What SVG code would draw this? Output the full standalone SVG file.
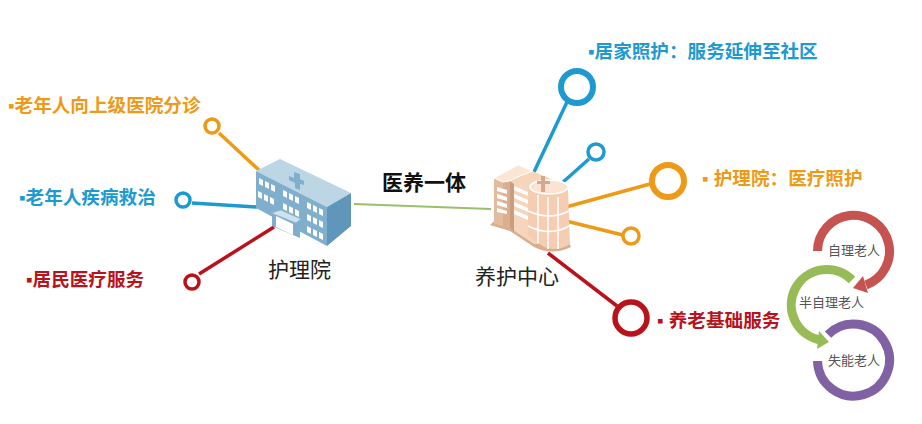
<svg xmlns="http://www.w3.org/2000/svg" width="922" height="424" viewBox="0 0 922 424">
<style>
text{font-family:"Liberation Sans","Noto Sans CJK SC",sans-serif}
.b{font-weight:700;font-size:18.6px}
.k{font-size:21px;fill:#222}
.c{font-size:13px;fill:#555}
.o{fill:#ee9a16}.bl{fill:#1e9ad0}.r{fill:#b9121b}
.lo{stroke:#ee9a16}.lb{stroke:#1e9ad0}.lr{stroke:#b9121b}
.ln{fill:none;stroke-width:3.5}
.ring{fill:#fff}
.win{fill:#fff}
.pw{fill:none;stroke:#fff;stroke-width:1.5}
</style>
<defs>
<g id="w"><polygon class="win" points="0,0 4,2 4,8 0,6"/></g>
<g id="w3"><use href="#w"/><use href="#w" x="6" y="3"/><use href="#w" x="12" y="6"/></g>
</defs>
<rect width="922" height="424" fill="#fff"/>
<g id="connectors">
<line class="ln lo" x1="219" y1="133" x2="260" y2="171"/>
<line class="ln lb" x1="192" y1="203" x2="257" y2="207"/>
<line class="ln lr" x1="199" y1="274" x2="274" y2="227"/>
<line x1="354" y1="204" x2="491" y2="209" fill="none" stroke="#9cbf6a" stroke-width="2"/>
<line class="ln lb" x1="534" y1="172" x2="567" y2="102"/>
<line class="ln lb" x1="562" y1="183" x2="589" y2="159"/>
<line class="ln lo" x1="566" y1="207" x2="650" y2="184"/>
<line class="ln lo" x1="566" y1="221" x2="623" y2="235"/>
<line class="ln lr" x1="548" y1="253" x2="617" y2="306"/>
</g>
<g id="hospital">
<polygon fill="#bcd6e6" points="256,171 280,159 351,193 327,207"/>
<polygon fill="#7fafcd" points="256,171 327,207 327,246 256,208"/>
<polygon fill="#5f96b9" points="327,207 351,193 351,226 327,246"/>
<polygon fill="#7fafcd" points="294,172 300,174 300,179 304,181 304,185 300,184 300,190 295,188 295,183 289,180 289,176 294,178"/>
<use href="#w3" x="259" y="178"/><use href="#w3" x="258" y="191"/>
<use href="#w3" x="283" y="190"/><use href="#w3" x="283" y="203"/>
<use href="#w3" x="307" y="202"/><use href="#w3" x="307" y="214"/><use href="#w3" x="307" y="226"/>
<polygon fill="#7fafcd" points="272,214 300,224 300,238 272,226"/>
<polygon fill="#fff" points="276,216 293,224 293,235 276,227"/>
<polygon fill="#cfe1ec" stroke="#8fb7d1" points="271,213 281,210 301,219 296,223"/>
</g>
<text id="hospital-label" class="k" x="268" y="277">护理院</text>
<text id="title" x="382" y="190" font-size="21" font-weight="700" fill="#111">医养一体</text>
<g id="center">
<path fill="#d9ae90" d="M490,225 L510,231 L534,247 Q552,256 571,247 L566,236 L500,215Z"/>
<polygon fill="#f6d5bd" points="494,178 518,165 568,186 568,244 534,244 510,228 494,223"/>
<polygon fill="#e3bb9f" points="494,178 503,182 503,226 494,223"/>
<polygon fill="#dcae90" points="503,182 510,181 512,230 503,226"/>
<polygon fill="#c99d80" points="510,181 514,184 514,232 510,228"/>
<polygon fill="#fbe6d6" stroke="#fff" points="494,178 518,165 533,171 520,176 509,181 503,182"/>
<polygon fill="#fff" points="497,187 507,190 507,194 497,191"/>
<polygon fill="#fff" points="497,194 507,197 507,201 497,198"/>
<polygon fill="#fff" points="497,201 507,204 507,208 497,205"/>
<polygon fill="#fff" points="497,208 507,211 507,214 497,212"/>
<polygon fill="#fff" points="514,186 528,192 528,196 514,190"/>
<polygon fill="#fff" points="514,194 528,200 528,204 514,198"/>
<polygon fill="#fff" points="514,202 528,208 528,212 514,206"/>
<polygon fill="#fff" points="514,210 528,216 528,220 514,214"/>
<path fill="#f4cdb2" d="M528,190 L568,190 L570,244 Q558,252 544,247 L528,236 Z"/>
<path class="pw" d="M528,211 Q550,221 569,211 M528,226 Q550,237 569,226 M538,195 V243 M548,197 V249 M558,197 V249"/>
<ellipse cx="549" cy="187" rx="19" ry="7" fill="#fae3d2" stroke="#fff" stroke-width="1.5"/>
<path fill="#d6a98c" d="M541,176 h4 v5 h5 v3 h-5 v8 h-4 v-8 h-4 v-3 h4z"/>
</g>
<text id="center-label" class="k" x="475" y="284">养护中心</text>
<g id="node-left-1"><circle class="ring lo" cx="212" cy="126" r="7" stroke-width="3.5"/>
<text class="b o" x="8" y="112">▪老年人向上级医院分诊</text></g>
<g id="node-left-2"><circle class="ring lb" cx="183" cy="200" r="7" stroke-width="3.5"/>
<text class="b bl" x="19" y="204">▪老年人疾病救治</text></g>
<g id="node-left-3"><circle class="ring lr" cx="192" cy="282" r="7" stroke-width="3.5"/>
<text class="b r" x="26" y="286">▪居民医疗服务</text></g>
<g id="node-right-1"><circle class="ring lb" cx="577" cy="87" r="16" stroke-width="6"/>
<text class="b bl" x="588" y="58">▪居家照护：服务延伸至社区</text></g>
<g id="node-right-2"><circle class="ring lb" cx="596" cy="152" r="8" stroke-width="3.5"/></g>
<g id="node-right-3"><circle class="ring lo" cx="668" cy="181" r="16" stroke-width="6"/>
<text class="b o" x="702" y="185">▪ 护理院：医疗照护</text></g>
<g id="node-right-4"><circle class="ring lo" cx="631" cy="236" r="8" stroke-width="3.5"/></g>
<g id="node-right-5"><circle class="ring lr" cx="631" cy="318" r="16" stroke-width="5.5"/>
<text class="b r" x="657" y="327">▪ 养老基础服务</text></g>
<g id="cycle" fill="none" stroke-width="9">
<path stroke="#c5534f" d="M817.5,251 A36,36 0 1 1 866,285"/>
<polygon fill="#c5534f" points="863,276 853,288 868,293"/>
<path stroke="#97bb56" d="M852,280 A35.5,35.5 0 1 0 821,340"/>
<polygon fill="#97bb56" points="819,331 829,342 817,349"/>
<path stroke="#8061a3" d="M828,334.600 A36,36 0 1 1 817.500,361"/>
<text class="c" stroke="none" x="828" y="255">自理老人</text>
<text class="c" stroke="none" x="799" y="307">半自理老人</text>
<text class="c" stroke="none" x="828" y="365">失能老人</text>
</g>
</svg>
